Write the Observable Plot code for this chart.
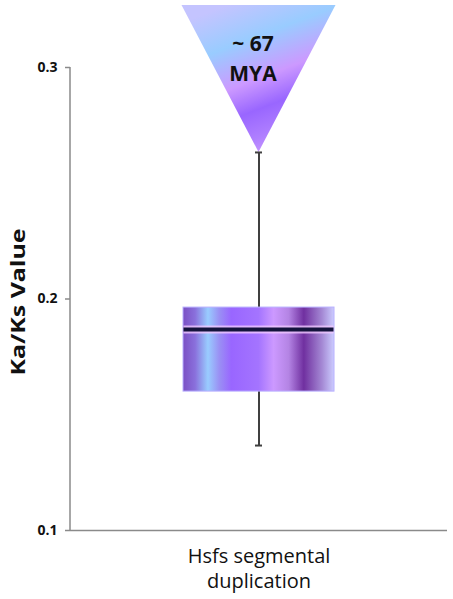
<!DOCTYPE html>
<html>
<head>
<meta charset="utf-8">
<script src="https://cdn.jsdelivr.net/npm/d3@7"></script>
<script src="https://cdn.jsdelivr.net/npm/@observablehq/plot@0.6"></script>
<style>
  html, body { margin: 0; padding: 0; background: #fff; }
</style>
</head>
<body>
<div id="chart"></div>
<script>
// Data
const categories = ["Hsfs segmental\nduplication"];
const whiskerLow = [0.1367];
const q1 = [0.1600];
const median = [0.1868];
const q3 = [0.1963];
const whiskerHigh = [0.2633];
const yTicks = [0.1, 0.2, 0.3];
const annotation = ["~ 67\nMYA"];
const yLabel = ["Ka/Ks Value"];

const data = categories.map((c, i) => ({
  cat: c, low: whiskerLow[i], q1: q1[i], med: median[i], q3: q3[i], high: whiskerHigh[i], note: annotation[i]
}));

const W = 453, H = 599;
const boxInset = 113;
const capInset = 185;

const triangleMark = (index, scales, values, dims) => {
  const g = d3.create("svg:g");
  data.forEach(d => {
    const x0 = scales.x(d.cat);
    const bw = scales.x.bandwidth();
    const cx = x0 + bw / 2;
    const tipY = scales.y(d.high);
    const half = 77;
    g.append("path")
      .attr("d", `M${cx - half},5 L${cx + half},5 L${cx},${tipY} Z`)
      .attr("fill", "url(#triGrad)");
  });
  return g.node();
};

const axisLine = (index, scales, values, dims) => {
  const g = d3.create("svg:g");
  g.append("line")
    .attr("x1", dims.marginLeft).attr("x2", dims.marginLeft)
    .attr("y1", dims.marginTop).attr("y2", dims.height - dims.marginBottom)
    .attr("stroke", "#8a8a8a").attr("stroke-width", 1.5);
  return g.node();
};

const chart = Plot.plot({
  width: W,
  height: H,
  marginLeft: 70,
  marginRight: 6,
  marginTop: 67,
  marginBottom: 69,
  style: { fontFamily: "'Open Sans', 'Liberation Sans', sans-serif", background: "#fff", overflow: "visible" },
  x: { domain: categories, padding: 0, axis: null },
  y: { domain: [0.1, 0.3], axis: null },
  marks: [
    triangleMark,
    Plot.ruleX(data, { x: "cat", y1: "low", y2: "high", stroke: "#404040", strokeWidth: 2 }),
    Plot.tickY(data, { x: "cat", y: "low", stroke: "#404040", strokeWidth: 2, inset: capInset }),
    Plot.tickY(data, { x: "cat", y: "high", stroke: "#404040", strokeWidth: 2, inset: capInset }),
    Plot.barY(data, { x: "cat", y1: "q1", y2: "q3", fill: "#000001", stroke: "#b8b0ff", strokeWidth: 1,
      insetLeft: boxInset, insetRight: boxInset }),
    Plot.tickY(data, { x: "cat", y: "med", stroke: "#f0c8ff", strokeWidth: 8, inset: boxInset + 0.5, strokeOpacity: 0.8 }),
    Plot.tickY(data, { x: "cat", y: "med", stroke: "#14143c", strokeWidth: 4, inset: boxInset + 0.5 }),
    Plot.text(data, { x: "cat", text: "note", frameAnchor: "top", dy: -11, dx: -6, lineAnchor: "middle",
      fontSize: 21, fontWeight: "bold", fill: "#111", lineHeight: 1.43 }),
    Plot.ruleY([0.1], { stroke: "#8a8a8a", strokeWidth: 1.5 }),
    axisLine,
    Plot.axisY({ ticks: yTicks, tickFormat: ".1f", tickSize: 5, tickPadding: 8, fontSize: 14, fontWeight: "bold",
      stroke: "#8a8a8a", strokeWidth: 1.5, color: "#111", label: null }),
    Plot.text(yLabel, { frameAnchor: "left", y: [0.2], dx: -52, dy: 3, rotate: -90, textAnchor: "middle",
      fontSize: 19, fontWeight: "bold", fill: "#111" }),
    Plot.text(data, { x: "cat", text: "cat", frameAnchor: "bottom", lineAnchor: "top", dy: 15, fontSize: 20,
      fill: "#111", lineHeight: 1.25 })
  ]
});

const svg = d3.select(chart);
const defs = svg.insert("defs", ":first-child");
const bg = defs.append("linearGradient").attr("id", "boxGrad").attr("x1", "0").attr("x2", "1").attr("y1", "0").attr("y2", "0");
[
  [0, "#7a50c4"], [0.08, "#8a70dc"], [0.165, "#99ccff"], [0.24, "#9a90f4"], [0.32, "#9966ff"],
  [0.5, "#a474ff"], [0.6, "#cc99ff"], [0.7, "#b484e4"], [0.8, "#7030a0"], [0.92, "#a488d4"], [1, "#ccccff"]
].forEach(([o, c]) => bg.append("stop").attr("offset", o).attr("stop-color", c));

const tg = defs.append("linearGradient").attr("id", "triGrad").attr("x1", "0.3").attr("x2", "0.7").attr("y1", "0").attr("y2", "1");
[
  [0, "#c4c4ff"], [0.25, "#99ccff"], [0.5, "#cc99ff"], [0.68, "#9966ff"], [0.85, "#b080ff"], [1, "#d0a0ff"]
].forEach(([o, c]) => tg.append("stop").attr("offset", o).attr("stop-color", c));

svg.selectAll('[fill="#000001"]').attr("fill", "url(#boxGrad)");
svg.selectAll("text").filter(function() { return this.textContent === yLabel[0]; })
  .attr("textLength", 147).attr("lengthAdjust", "spacingAndGlyphs");

document.getElementById("chart").appendChild(chart);
</script>
</body>
</html>
